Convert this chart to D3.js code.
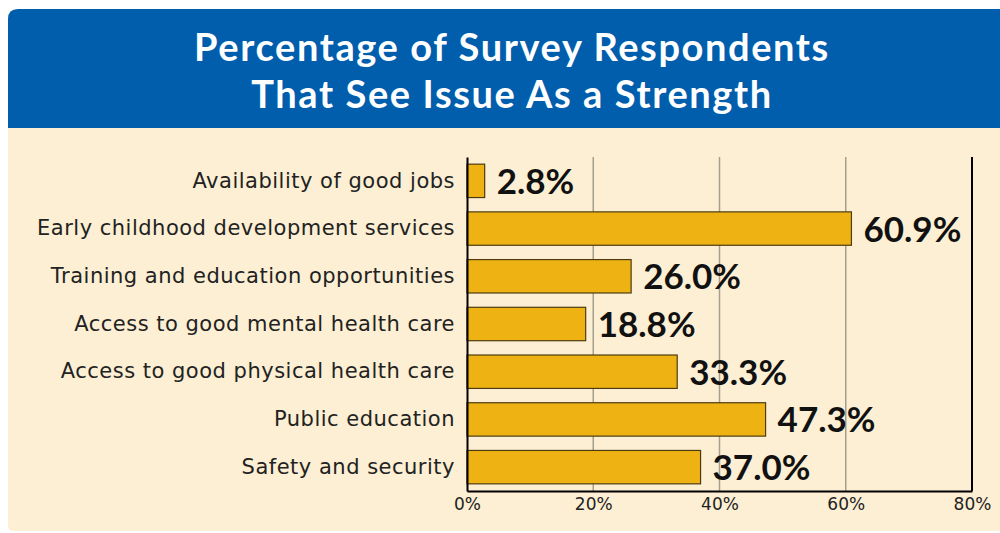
<!DOCTYPE html>
<html>
<head>
<meta charset="utf-8">
<script src="https://cdn.jsdelivr.net/npm/d3@7"></script>
<style>
  body { margin: 0; background: #fff; }
  svg { display: block; }
</style>
</head>
<body>
<svg></svg>
<script>
let categories = [
  "Availability of good jobs",
  "Early childhood development services",
  "Training and education opportunities",
  "Access to good mental health care",
  "Access to good physical health care",
  "Public education",
  "Safety and security"
]
let values = [2.8, 60.9, 26.0, 18.8, 33.3, 47.3, 37.0]
let tickValues = [0, 20, 40, 60, 80]
let titleLines = ["Percentage of Survey Respondents", "That See Issue As a Strength"]

let width = 1000
let height = 533
let font = "'Lato', 'Open Sans', sans-serif"
let labelFont = "'DejaVu Sans', sans-serif"

let svg = d3.select('svg')
  .attr('width', width)
  .attr('height', height)

// panel background: cream body and blue header, rounded on the left
svg.append('path')
   .attr('d', 'M8,19 Q8,9 18,9 L1000,9 L1000,531 L14,531 Q8,531 8,525 Z')
   .attr('fill', '#fcefd3')

svg.append('path')
   .attr('d', 'M8,128 L8,19 Q8,9 18,9 L1000,9 L1000,128 Z')
   .attr('fill', '#005ead')

svg.selectAll('.title')
   .data(titleLines)
   .enter()
   .append('text')
   .attr('class', 'title')
   .attr('x', 512)
   .attr('y', (d, i) => 61 + i * 47)
   .attr('text-anchor', 'middle')
   .attr('fill', '#fff')
   .attr('font-family', font)
   .attr('font-weight', 'bold')
   .attr('font-size', 38)
   .attr('letter-spacing', 1.6)
   .text(d => d)

let xScale = d3.scaleLinear()
  .domain([0, 80])
  .range([467, 972])

let yScale = d3.scaleBand()
  .domain(categories)
  .range([157, 491])
  .paddingInner(0.3)
  .paddingOuter(0.15)

// grid lines
svg.selectAll('.grid')
   .data(tickValues.slice(1, -1))
   .enter()
   .append('line')
   .attr('x1', d => xScale(d))
   .attr('x2', d => xScale(d))
   .attr('y1', 157)
   .attr('y2', 491)
   .attr('stroke', '#a59f90')
   .attr('stroke-width', 1.5)

// right border line
svg.append('line')
   .attr('x1', xScale(80))
   .attr('x2', xScale(80))
   .attr('y1', 157)
   .attr('y2', 491)
   .attr('stroke', '#000')
   .attr('stroke-width', 2)

svg.selectAll('.bar')
   .data(values)
   .enter()
   .append('rect')
   .attr('class', 'bar')
   .attr('x', xScale(0))
   .attr('y', (d, i) => yScale(categories[i]))
   .attr('width', d => xScale(d) - xScale(0))
   .attr('height', yScale.bandwidth())
   .attr('fill', '#eeb213')
   .attr('stroke', '#4d3c12')
   .attr('stroke-width', 1.2)

svg.selectAll('.val')
   .data(values)
   .enter()
   .append('text')
   .attr('class', 'val')
   .attr('x', d => xScale(d) + 12)
   .attr('y', (d, i) => yScale(categories[i]) + yScale.bandwidth() / 2 + 13)
   .attr('font-family', font)
   .attr('font-weight', 'bold')
   .attr('font-size', 35)
   .attr('fill', '#111')
   .text(d => d.toFixed(1) + '%')

let xAxis = d3.axisBottom(xScale)
  .tickValues(tickValues)
  .tickSize(0)
  .tickPadding(7)
  .tickFormat(d => d + '%')

let yAxis = d3.axisLeft(yScale)
  .tickSize(0)
  .tickPadding(12)

let gx = svg.append('g')
  .attr('transform', 'translate(0, 491)')
  .call(xAxis)
gx.select('.domain').attr('stroke', '#000').attr('stroke-width', 2)
gx.selectAll('text')
  .attr('font-family', labelFont)
  .attr('font-size', 17)
  .attr('fill', '#222')

let gy = svg.append('g')
  .attr('transform', `translate(${xScale(0)}, 0)`)
  .call(yAxis)
gy.select('.domain').attr('stroke', '#000').attr('stroke-width', 2)
gy.selectAll('text')
  .attr('font-family', labelFont)
  .attr('font-size', 21)
  .attr('letter-spacing', 0.5)
  .attr('fill', '#222')
</script>
</body>
</html>
